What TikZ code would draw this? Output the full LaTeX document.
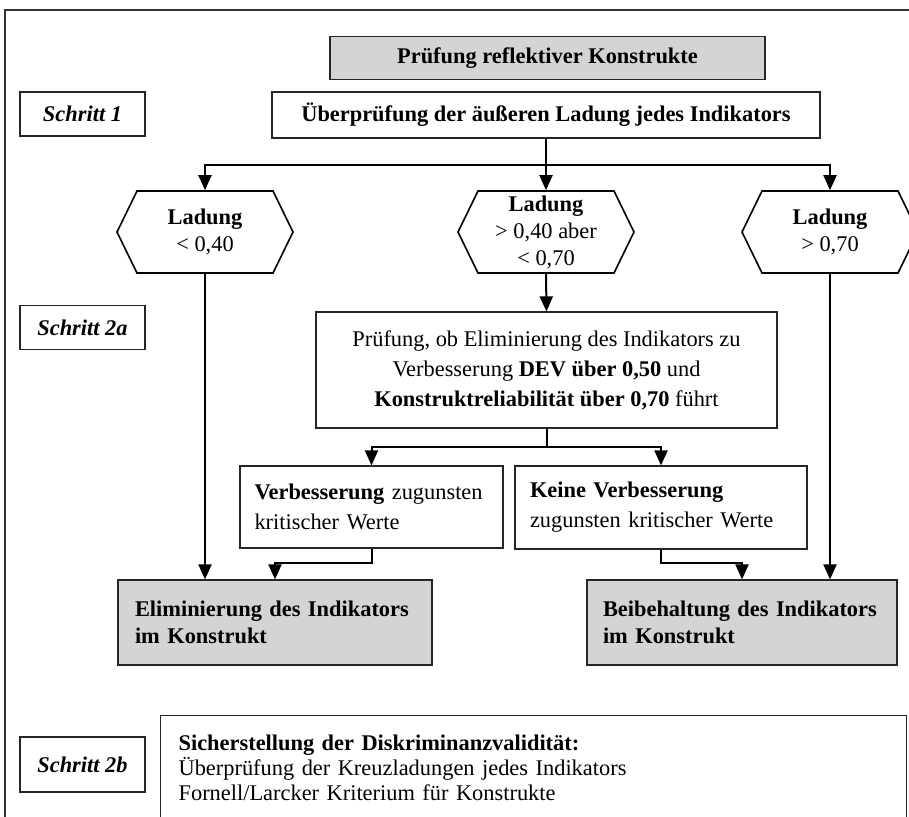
\documentclass[tikz,border=0pt]{standalone}
\usepackage{fontspec}
\setmainfont{Liberation Serif}
\usetikzlibrary{shapes.symbols,arrows.meta}

\begin{document}
\begin{tikzpicture}[
    x=0.5pt, y=-0.5pt,
    font=\fontsize{11.2}{15}\selectfont,
    box/.style={draw=black!85, line width=0.6pt, fill=white, inner sep=0pt},
    greybox/.style={box, fill=black!17},
    steplab/.style={box, minimum width=62.5pt, minimum height=22pt,
                    font=\fontsize{11.2}{13}\selectfont\bfseries\itshape},
    hexa/.style={draw=black, line width=0.8pt, fill=white, shape=signal,
                 signal to=east and west, signal pointer angle=128,
                 minimum width=88pt, minimum height=41pt, inner sep=0pt,
                 align=center, font=\fontsize{11.2}{13.5}\selectfont},
    conn/.style={line width=1pt},
    arr/.style={conn, -{Triangle[width=6.5pt,length=7.5pt]}},
]
\clip (0,0) rectangle (909,816);

% ---- frame ----
\draw[line width=0.8pt, black!80] (5,10) rectangle (930,840);

% ---- Schritt 1 ----
\node[greybox, minimum width=217.5pt, minimum height=21.5pt,
      font=\fontsize{11.2}{13}\selectfont\bfseries] (title) at (547.5,58) {Prüfung reflektiver Konstrukte};
\node[steplab] (s1) at (82.5,114) {Schritt 1};
\node[box, minimum width=274pt, minimum height=23pt,
      font=\fontsize{11.2}{13}\selectfont\bfseries] (check1) at (546,115) {Überprüfung der äußeren Ladung jedes Indikators};

\node[hexa] (hexL) at (205,232) {\textbf{Ladung}\\< 0,40};
\node[hexa] (hexM) at (546,232) {\textbf{Ladung}\\> 0,40 aber\\< 0,70};
\node[hexa] (hexR) at (830,232) {\textbf{Ladung}\\> 0,70};

\coordinate (fork1) at (546,165);
\draw[conn] (check1) -- (fork1);
\draw[arr] (fork1) -| (hexL.north);
\draw[arr] (fork1) -- (hexM.north);
\draw[arr] (fork1) -| (hexR.north);

% ---- Schritt 2a ----
\node[steplab] (s2a) at (82.5,327.5) {Schritt 2a};
\node[box, minimum width=230.5pt, minimum height=58pt, align=center] (check2) at (546.5,370)
    {Prüfung, ob Eliminierung des Indikators zu\\
     Verbesserung \textbf{DEV über 0,50} und\\
     \textbf{Konstruktreliabilität über 0,70} führt};
\draw[arr] (hexM.south) -- (check2.north);

\node[box, minimum width=131.5pt, minimum height=41pt, text width=117pt, align=left] (verb) at (371.5,507)
    {\textbf{Verbesserung} zugunsten\\kritischer Werte};
\node[box, minimum width=146pt, minimum height=41.5pt, text width=131pt, align=left] (keine) at (661,507.5)
    {\textbf{Keine Verbesserung}\\zugunsten kritischer Werte};

\coordinate (fork2) at (546.5,447);
\draw[conn] (check2) -- (fork2);
\draw[arr] (fork2) -| (verb.north);
\draw[arr] (fork2) -| (keine.north);

\node[greybox, minimum width=157pt, minimum height=42.5pt, text width=140pt, align=left,
      font=\fontsize{11.2}{13.5}\selectfont\bfseries] (elim) at (275,622.5)
    {Eliminierung des Indikators\\im Konstrukt};
\node[greybox, minimum width=155pt, minimum height=42.5pt, text width=139pt, align=left,
      font=\fontsize{11.2}{13.5}\selectfont\bfseries] (keep) at (742,622.5)
    {Beibehaltung des Indikators\\im Konstrukt};

\coordinate (bendL) at (371.5,563);
\coordinate (bendR) at (661,563);
\draw[arr] (verb.south) -- (bendL) -| (elim.north);
\draw[arr] (keine.south) -- (bendR) -| (keep.north);
\draw[arr] (hexL.south) -- (hexL.south |- elim.north);
\draw[arr] (hexR.south) -- (hexR.south |- keep.north);

% ---- Schritt 2b ----
\node[steplab, minimum height=27.5pt] (s2b) at (82.5,764.5) {Schritt 2b};
\node[box, anchor=north west, minimum width=372.5pt, text width=355pt, align=left,
      inner xsep=9pt, inner ysep=9.5pt, font=\fontsize{11.2}{12.5}\selectfont] (disc) at (160,715)
    {\textbf{Sicherstellung der Diskriminanzvalidität:}\\
     Überprüfung der Kreuzladungen jedes Indikators\\
     Fornell/Larcker Kriterium für Konstrukte};
\end{tikzpicture}
\end{document}
